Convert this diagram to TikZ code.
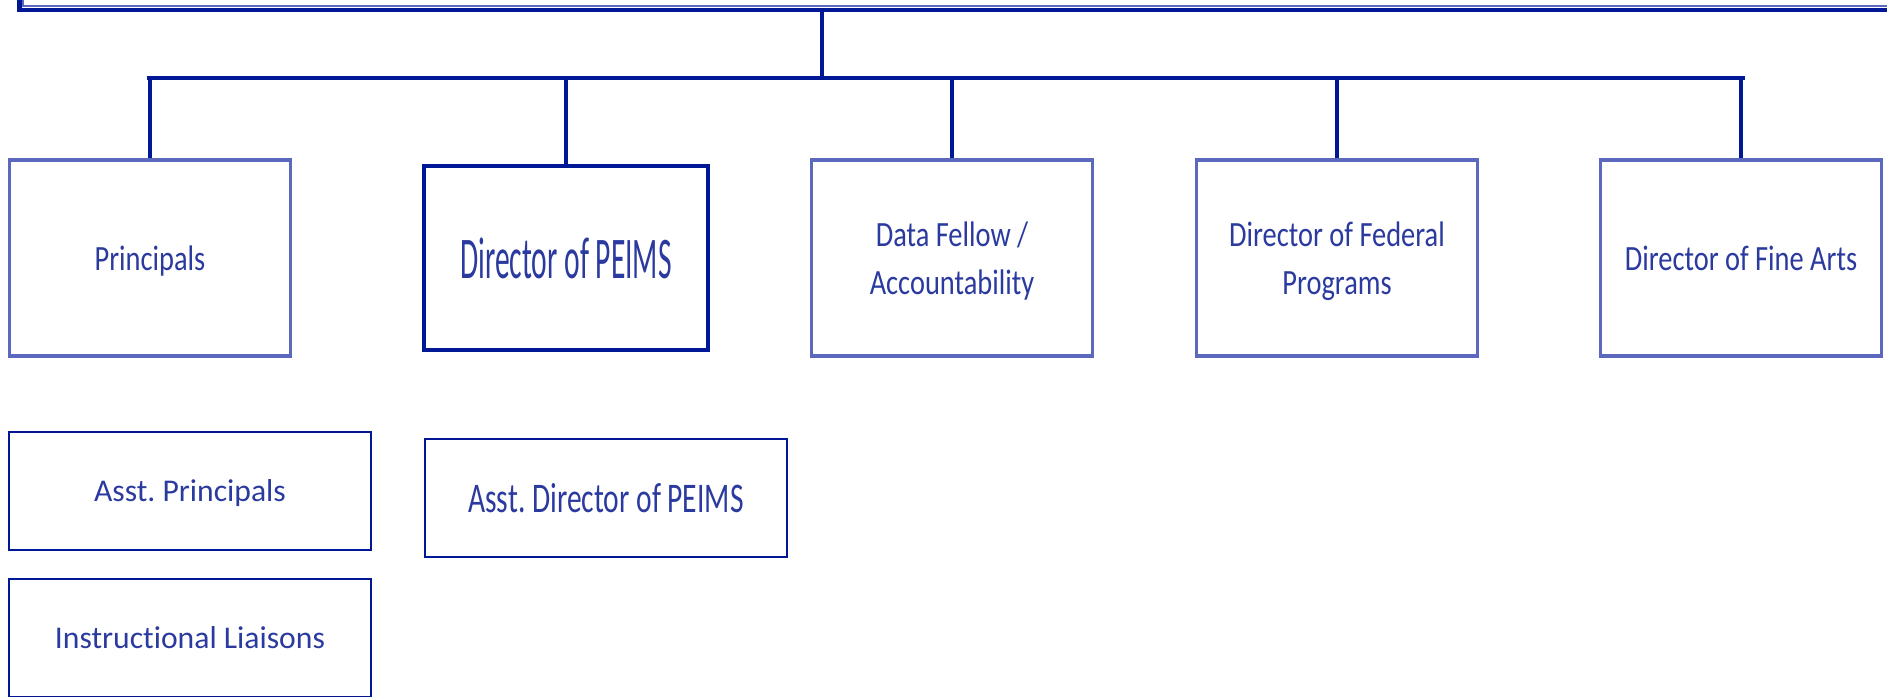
\documentclass[tikz,border=0pt]{standalone}
\usepackage{fontspec}
\setmainfont{Carlito}[Ligatures=NoCommon]
\newfontfamily\narrowfont{Carlito}[FakeStretch=0.8,Ligatures=NoCommon]
\newfontfamily\peimsfont{Carlito}[FakeStretch=0.5,Ligatures=NoCommon]
\newfontfamily\asstfont{Carlito}[FakeStretch=0.7,Ligatures=NoCommon]
\definecolor{darkline}{HTML}{001896}
\definecolor{lightline}{HTML}{5B68BD}
\definecolor{textblue}{HTML}{2B3A9E}
\frenchspacing

\begin{document}
\begin{tikzpicture}[x=0.01cm,y=-0.01cm,
  role/.style={draw=lightline, line width=0.9pt, text=textblue, align=center, inner sep=0pt, text depth=0pt,
    minimum width=2.81cm, minimum height=1.96cm, font=\narrowfont\fontsize{10.1}{13.7}\selectfont},
  staff/.style={draw=darkline, line width=0.7pt, text=textblue, align=center, inner sep=0pt, text depth=0pt,
    minimum width=3.62cm, minimum height=1.18cm, font=\fontsize{9}{11}\selectfont},
  link/.style={darkline, line width=0.9pt},
  bus/.style={darkline, line width=1.4pt}]
\useasboundingbox (0,0) rectangle (1887,697);
\node[draw=darkline, line width=1.3pt, inner sep=0pt, minimum width=19.2cm, minimum height=1cm] (head) at (980,-40) {};
\draw[lightline, line width=0.8pt] (23,-40) -- (23,6) -- (1900,6);
\node[role] (prin) at (150,258) {Principals};
\node[draw=darkline, line width=1.1pt, text=textblue, inner sep=0pt, minimum width=2.83cm, minimum height=1.84cm,
  font=\peimsfont\fontsize{16.8}{20}\selectfont] (peims) at (566,258) {Director of PEIMS};
\node[role] (data) at (952,258) {Data Fellow /\\Accountability};
\node[role] (fed) at (1337,258) {Director of Federal\\Programs};
\node[role] (fine) at (1741,258) {Director of Fine Arts};
\node[staff] (asstp) at (190,491) {Asst. Principals};
\node[staff, font=\asstfont\fontsize{12}{14}\selectfont] (asstd) at (606,498) {Asst. Director of PEIMS};
\node[staff] (liais) at (190,638) {Instructional Liaisons};
\coordinate (busL) at (147,78);
\coordinate (busR) at (1745,78);
\coordinate (top) at (822,10);
\draw[bus] (busL) -- (busR);
\draw[link] (top) -- (top |- busL);
\foreach \n in {prin,peims,data,fed,fine}
  \draw[link] (\n.north) -- (\n.north |- busL);
\end{tikzpicture}
\end{document}
